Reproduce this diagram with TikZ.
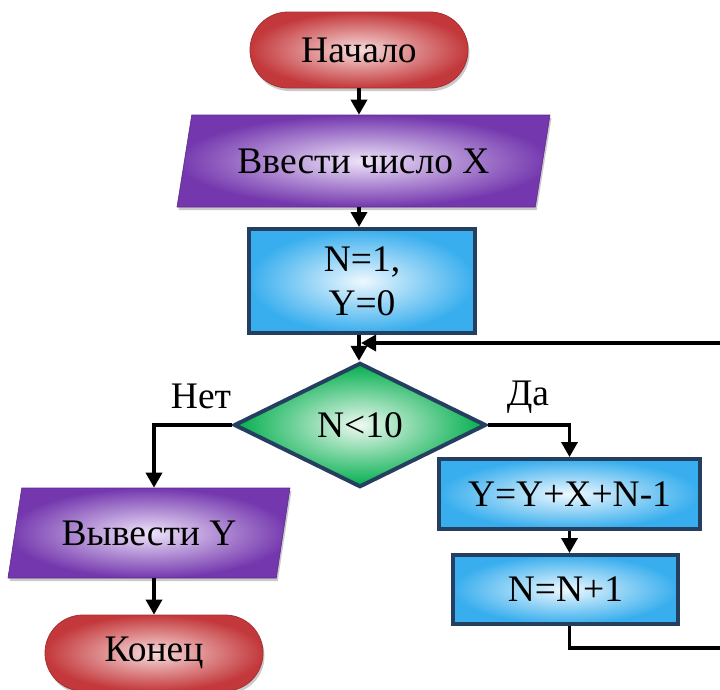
\documentclass[tikz,border=0pt]{standalone}
\usepackage{fontspec}
\setmainfont{Liberation Serif}
\usetikzlibrary{shapes.geometric,shadows,arrows.meta}
\definecolor{navy}{HTML}{243F60}
\definecolor{termred}{HTML}{C3383B}
\definecolor{termin}{HTML}{F8DCDC}
\definecolor{purp}{HTML}{7437AE}
\definecolor{purpin}{HTML}{EEE4F9}
\definecolor{sky}{HTML}{38AEEE}
\definecolor{skyin}{HTML}{EEF8FE}
\definecolor{grn}{HTML}{00AE4C}
\definecolor{grnin}{HTML}{EEF9F1}
\tikzset{
  txt/.style={font=\fontsize{37.5}{44}\selectfont, text=black},
  shade/.style={drop shadow={shadow xshift=1.5pt, shadow yshift=-3pt, fill=gray!70, opacity=0.6}},
  term/.style={txt, shade, rectangle, rounded corners=38pt, minimum width=218pt, minimum height=76pt,
    inner color=termin, outer color=termred, draw=termred!85!black, line width=0.8pt},
  iobox/.style={txt, shade, trapezium, trapezium stretches body, inner color=purpin, outer color=purp,
    draw=purp!80!black, line width=0.6pt},
  procbox/.style={txt, rectangle, inner color=skyin, outer color=sky, draw=navy, line width=4pt},
  decbox/.style={txt, diamond, inner color=grnin, outer color=grn, draw=navy, line width=4pt},
  conn/.style={line width=3.5pt, draw=black},
  arr/.style={conn, -{Triangle[width=16pt,length=15pt]}},
  lbl/.style={txt}
}
\begin{document}
\begin{tikzpicture}[x=1pt,y=-1pt]
\useasboundingbox (0,0) rectangle (720,689);

\node[term] (start) at (359,50) {Начало};
\node[iobox, trapezium left angle=65, trapezium right angle=115,
      minimum width=373pt, minimum height=92pt] (in) at (363.5,161) {Ввести число X};
\node[procbox, align=center, minimum width=226pt, minimum height=104pt] (init) at (362,281) {N=1,\\Y=0};
\node[decbox, minimum width=252pt, minimum height=124pt] (dec) at (360,425) {N<10};
\node[procbox, minimum width=261pt, minimum height=70pt] (ybox) at (569.5,494) {Y=Y+X+N-1};
\node[procbox, minimum width=225pt, minimum height=69pt] (nn) at (565.5,589.5) {N=N+1};
\node[iobox, trapezium left angle=66.5, trapezium right angle=113.5,
      minimum width=282pt, minimum height=90pt] (out) at (149,533) {Вывести Y};
\node[term] (ende) at (154,653) {Конец};

\node[lbl] (no) at (201,396) {Нет};
\node[lbl] (yes) at (528,397) {Да};

\coordinate (join) at (361,343);
\coordinate (loopbot) at (740,648);
\coordinate (looptop) at (740,343);

\draw[arr] (start.south) -- (start.south |- in.north);
\draw[arr] (start.south |- in.south) -- (start.south |- init.north);
\draw[arr] (start.south |- init.south) -- (start.south |- dec.north);
\draw[arr] (dec.west) -| (ende.north |- out.north);
\draw[arr] (ende.north |- out.south) -- (ende.north);
\draw[arr] (dec.east) -| (ybox.north);
\draw[arr] (ybox.south) -- (ybox.south |- nn.north);
\draw[arr] (ybox.south |- nn.south) -- (ybox.south |- loopbot) -- (loopbot) -- (looptop) -- (join);
\end{tikzpicture}
\end{document}
